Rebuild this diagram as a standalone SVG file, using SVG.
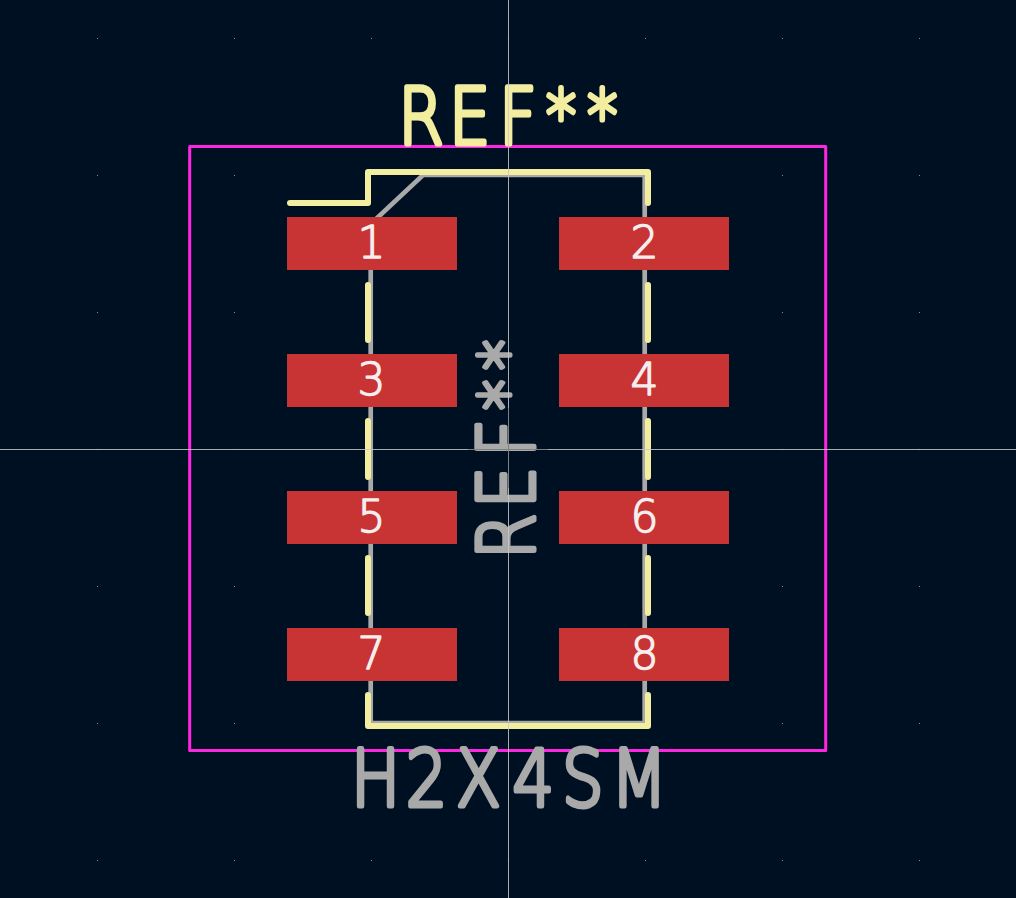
<svg xmlns="http://www.w3.org/2000/svg" width="1016" height="898" viewBox="0 0 1016 898">
<style>
.fab{fill:none;stroke:#a9a9a9;stroke-width:4.7}
.silk{fill:none;stroke:#f3eda0;stroke-width:6;stroke-linecap:round;stroke-linejoin:round}
.pad{fill:#c83434}
.num{font-family:"DejaVu Sans","Liberation Sans",sans-serif;font-weight:200;font-size:44px;fill:#f6eeee;stroke:#f6eeee;stroke-width:1.4;stroke-linejoin:round;text-anchor:middle}
.big{font-family:"DejaVu Sans","Liberation Sans",sans-serif;font-weight:200;font-size:78px;stroke-width:5;stroke-linejoin:round;stroke-linecap:round}
.y{fill:#f3eda0;stroke:#f3eda0}
.g{fill:#a9a9a9;stroke:#a9a9a9}
.star{font-size:72px}
.grid{fill:#8a8f96}
</style>
<rect width="1016" height="898" fill="#001023"/>
<g id="grid">
<path d="M97 38h1v1h-1zM234 38h1v1h-1zM371 38h1v1h-1zM508 38h1v1h-1zM645 38h1v1h-1zM782 38h1v1h-1zM919 38h1v1h-1zM97 175h1v1h-1zM234 175h1v1h-1zM782 175h1v1h-1zM919 175h1v1h-1zM97 312h1v1h-1zM234 312h1v1h-1zM782 312h1v1h-1zM919 312h1v1h-1zM97 449h1v1h-1zM234 449h1v1h-1zM782 449h1v1h-1zM919 449h1v1h-1zM97 586h1v1h-1zM234 586h1v1h-1zM782 586h1v1h-1zM919 586h1v1h-1zM97 723h1v1h-1zM234 723h1v1h-1zM782 723h1v1h-1zM919 723h1v1h-1zM97 860h1v1h-1zM234 860h1v1h-1zM371 860h1v1h-1zM508 860h1v1h-1zM645 860h1v1h-1zM782 860h1v1h-1zM919 860h1v1h-1z" class="grid"/>
</g>
<g id="connectors">
<path id="fab-outline" class="fab" d="M423 175H644.7V723H370.7V224Z"/>
<path id="silk-outline" class="silk" d="M290 203H368V172H648V203M368 285V340M368 421V477M368 558V613M368 695V726H648V695M648 613V558M648 477V421M648 340V285"/>
<rect id="courtyard" x="189.7" y="146.5" width="636" height="604" fill="none" stroke="#ff26e2" stroke-width="3" stroke-linejoin="round"/>
</g>
<g id="pad-1"><rect class="pad" x="287" y="217" width="170" height="53"/><text class="num" x="371.5" y="258">1</text></g>
<g id="pad-2"><rect class="pad" x="559" y="217" width="170" height="53"/><text class="num" x="644.5" y="258">2</text></g>
<g id="pad-3"><rect class="pad" x="287" y="354" width="170" height="53"/><text class="num" x="371.5" y="395">3</text></g>
<g id="pad-4"><rect class="pad" x="559" y="354" width="170" height="53"/><text class="num" x="644.5" y="395">4</text></g>
<g id="pad-5"><rect class="pad" x="287" y="491" width="170" height="53"/><text class="num" x="371.5" y="532">5</text></g>
<g id="pad-6"><rect class="pad" x="559" y="491" width="170" height="53"/><text class="num" x="644.5" y="532">6</text></g>
<g id="pad-7"><rect class="pad" x="287" y="628" width="170" height="53"/><text class="num" x="371.5" y="669">7</text></g>
<g id="pad-8"><rect class="pad" x="559" y="628" width="170" height="53"/><text class="num" x="644.5" y="669">8</text></g>
<g id="ref-top"><text class="big y" transform="translate(0 143.5) scale(.84 1)" x="474 534.5 594" y="0">REF<tspan class="star" x="650 699" dy="-3.5">**</tspan></text></g>
<g id="ref-fab"><text class="big g" transform="translate(533.5 0) rotate(-90) scale(.84 1)" x="-665.5 -604.8 -544" y="0">REF<tspan class="star" x="-488 -440.5" dy="-3.5">**</tspan></text></g>
<g id="value"><text class="big g" transform="translate(0 805.5) scale(.84 1)" x="418 483 543 610 669 727" y="0">H2X4SM</text></g>
<g id="crosshair">
<path d="M508.5 0V898M0 449.5H1016" fill="none" stroke="#c8c8c8" stroke-width="1" opacity=".85"/>
<path d="M508.5 408V488M468 449.5H548" fill="none" stroke="#808080" stroke-width="1"/>
</g>
</svg>
